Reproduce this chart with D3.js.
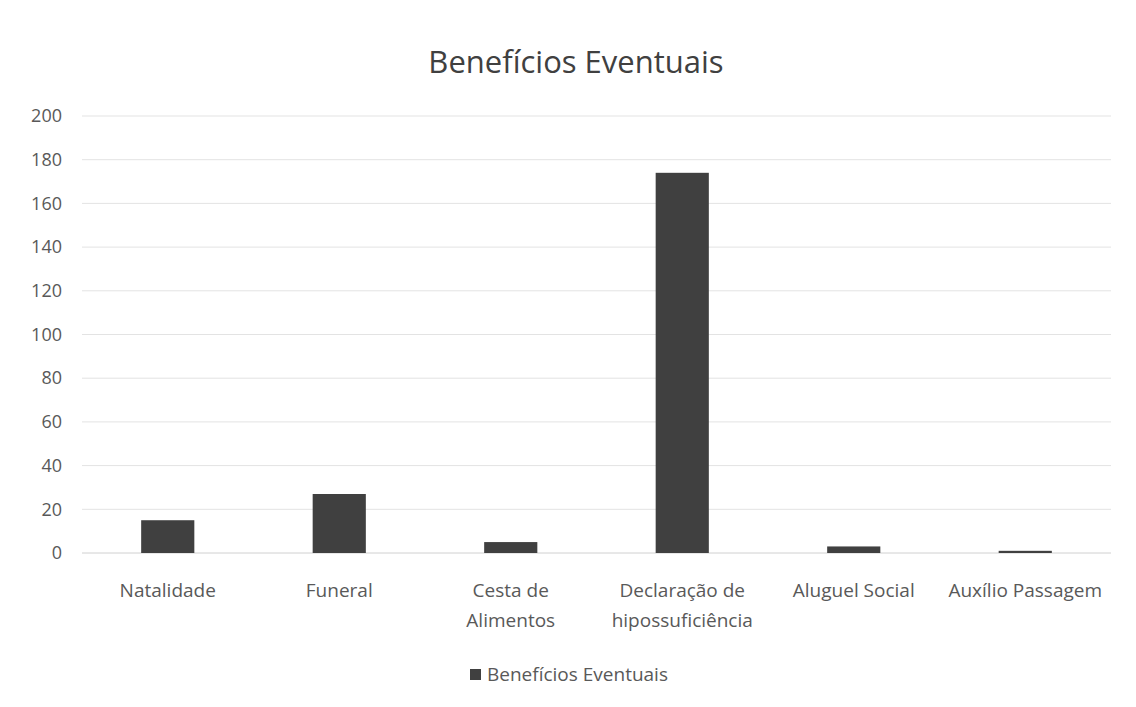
<!DOCTYPE html>
<html>
<head>
<meta charset="utf-8">
<script src="https://cdn.jsdelivr.net/npm/d3@7"></script>
<style>
  body { margin: 0; background: #fff; }
  svg text { font-family: "Open Sans", "Noto Sans", sans-serif; fill: #595959; }
</style>
</head>
<body>
<div id="chart"></div>
<script>
const categories = [
  ["Natalidade"],
  ["Funeral"],
  ["Cesta de", "Alimentos"],
  ["Declaração de", "hipossuficiência"],
  ["Aluguel Social"],
  ["Auxílio Passagem"]
];
const values = [15, 27, 5, 174, 3, 1];
const yTicks = [0, 20, 40, 60, 80, 100, 120, 140, 160, 180, 200];
const seriesName = "Benefícios Eventuais";

const width = 1136, height = 707;
const margin = { top: 116, right: 25, bottom: 154, left: 82 };
const innerW = width - margin.left - margin.right;
const innerH = height - margin.top - margin.bottom;

const svg = d3.select("#chart").append("svg")
  .attr("width", width)
  .attr("height", height);

const g = svg.append("g")
  .attr("transform", `translate(${margin.left},${margin.top})`);

const keys = categories.map(c => c.join(" "));

const x = d3.scaleBand()
  .domain(keys)
  .range([0, innerW])
  .paddingInner(0.69)
  .paddingOuter(0.345);

const y = d3.scaleLinear()
  .domain([0, 200])
  .range([innerH, 0]);

// gridlines
g.append("g")
  .selectAll("line")
  .data(yTicks)
  .join("line")
  .attr("x1", 0)
  .attr("x2", innerW)
  .attr("y1", d => y(d))
  .attr("y2", d => y(d))
  .attr("stroke", d => d === 0 ? "#d0d0d0" : "#e3e3e3")
  .attr("stroke-width", 1);

// y axis
const yAxis = d3.axisLeft(y).tickValues(yTicks).tickSize(0).tickPadding(20);
g.append("g").call(yAxis)
  .call(a => a.select(".domain").remove())
  .selectAll("text")
  .style("font-family", null)
  .style("font-size", "18px")
  .style("fill", "#595959");

// bars
g.selectAll(".bar")
  .data(values)
  .join("rect")
  .attr("class", "bar")
  .attr("x", (d, i) => x(keys[i]))
  .attr("y", d => y(d))
  .attr("width", x.bandwidth())
  .attr("height", d => innerH - y(d))
  .attr("fill", "#404040");

// x labels
const lab = g.append("g").selectAll("text")
  .data(categories)
  .join("text")
  .attr("text-anchor", "middle")
  .attr("x", (d, i) => x(keys[i]) + x.bandwidth() / 2)
  .attr("y", innerH + 44)
  .style("font-size", "19px");
lab.selectAll("tspan")
  .data(d => d)
  .join("tspan")
  .attr("x", function () { return d3.select(this.parentNode).attr("x"); })
  .attr("dy", (d, i) => i === 0 ? 0 : 30)
  .text(d => d);

// title
svg.append("text")
  .attr("x", 576)
  .attr("y", 73)
  .attr("text-anchor", "middle")
  .style("font-size", "31px")
  .style("fill", "#404040")
  .text(seriesName);

// legend
const leg = svg.append("g").attr("transform", "translate(470,681)");
leg.append("rect")
  .attr("x", 0).attr("y", -12)
  .attr("width", 11).attr("height", 11)
  .attr("fill", "#404040");
leg.append("text")
  .attr("x", 17).attr("y", 0)
  .style("font-size", "19px")
  .text(seriesName);
</script>
</body>
</html>
